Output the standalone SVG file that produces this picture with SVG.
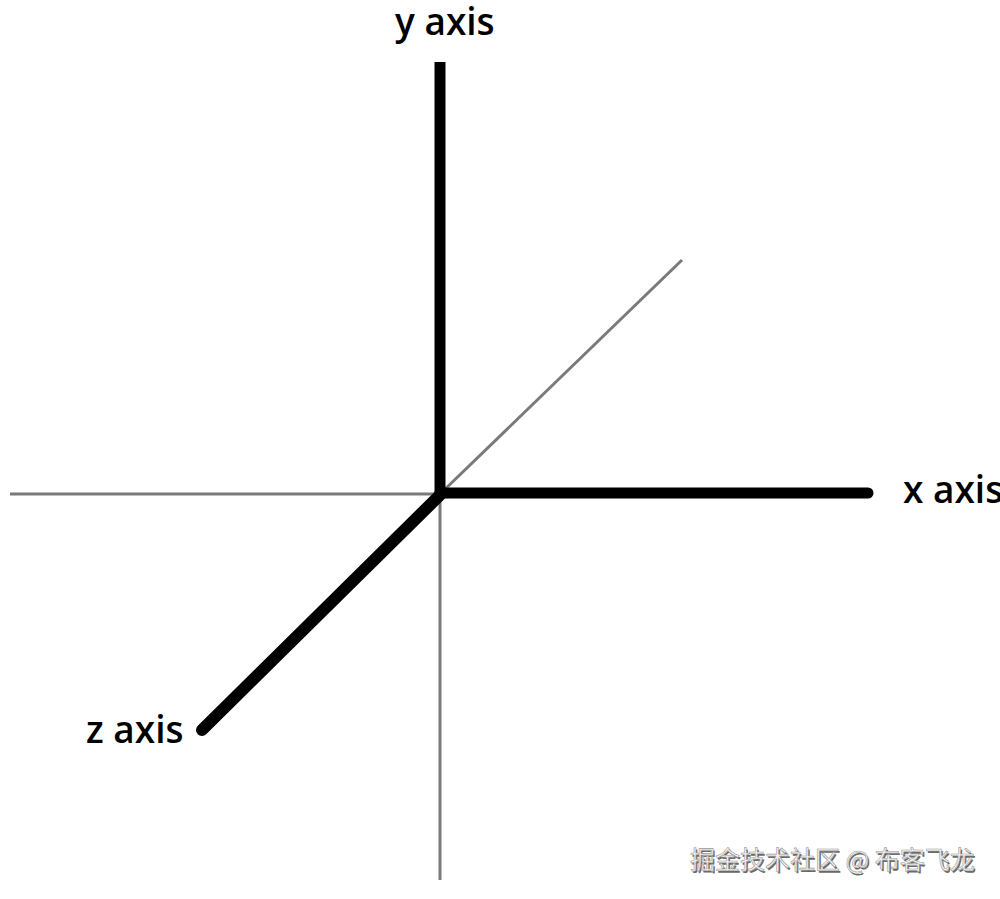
<svg xmlns="http://www.w3.org/2000/svg" width="1000" height="899" viewBox="0 0 1000 899">
<style>
.thin{stroke:#7a7a7a;stroke-width:3;fill:none}
.thick{stroke:#000;stroke-width:11;fill:none;stroke-linecap:round}
.lbl{font-family:"Open Sans","Liberation Sans",sans-serif;font-weight:600;font-size:37px;fill:#000}
.wm{font-family:"Noto Sans CJK SC","Noto Sans",sans-serif;font-size:25px}
</style>
<rect width="1000" height="899" fill="#fff"/>
<g id="connectors">
<line class="thin" x1="10" y1="494" x2="440" y2="494"/>
<line class="thin" x1="440" y1="494" x2="440" y2="880"/>
<line class="thin" x1="440" y1="494" x2="682" y2="260"/>
<line class="thick" x1="440" y1="493" x2="440" y2="62" style="stroke-linecap:butt"/>
<line class="thick" x1="440" y1="493" x2="868" y2="493"/>
<line class="thick" x1="442" y1="493" x2="202" y2="730" style="stroke-width:12"/>
</g>
<g id="y-axis-label"><text class="lbl" x="395" y="35">y axis</text></g>
<g id="x-axis-label"><text class="lbl" x="903" y="503">x axis</text></g>
<g id="z-axis-label"><text class="lbl" x="86" y="743">z axis</text></g>
<g id="watermark">
<text class="wm" x="691.5" y="870.5" fill="#6a6a6a">掘金技术社区 @ 布客飞龙</text>
<text class="wm" x="690" y="869" fill="#f4f4f4" stroke="#9a9a9a" stroke-width="0.6">掘金技术社区 @ 布客飞龙</text>
</g>
</svg>
